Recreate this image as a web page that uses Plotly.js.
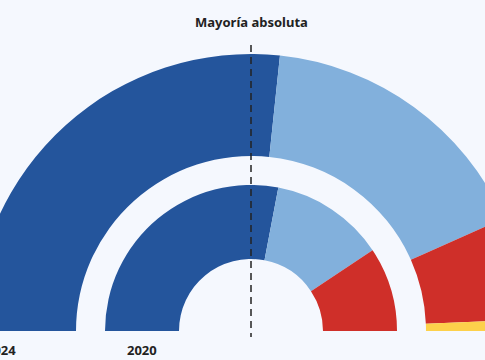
<!DOCTYPE html>
<html>
<head>
<meta charset="utf-8">
<script src="https://cdn.plot.ly/plotly-3.0.1.min.js"></script>
<style>
html,body{margin:0;padding:0;width:485px;height:360px;overflow:hidden;background:#f5f8fe;}
#chart{position:absolute;left:-29px;top:0;width:560px;height:680px;}
</style>
</head>
<body>
<div id="chart"></div>
<script>
var parties = ['PP', 'BNG', 'PSdeG', 'DO'];
var seats2024 = [40, 25, 9, 1];
var seats2020 = [42, 19, 14, 0];
var yearLabels = ['2024', '2020'];
var titleText = 'Mayoría absoluta';

var partyColors = ['#24559c', '#82b0dc', '#cf2f29', '#fdd14b'];
var bg = '#f5f8fe';
var W = 560, H = 680, cx = 280, cy = 331;

function half(vals) {
  var total = vals.reduce(function (a, b) { return a + b; }, 0);
  return vals.concat([total]);
}
function dom(r) {
  return {
    x: [(cx - r) / W, (cx + r) / W],
    y: [(H - cy - r) / H, (H - cy + r) / H]
  };
}
var cols = partyColors.concat(['rgba(0,0,0,0)']);
var labs = parties.concat(['']);

var traces = [
  {
    type: 'pie', values: half(seats2024), labels: labs, sort: false,
    direction: 'clockwise', rotation: -90, hole: 175 / 277,
    domain: dom(277), textinfo: 'none', hoverinfo: 'skip',
    marker: {colors: cols, line: {width: 0}}, showlegend: false
  },
  {
    type: 'pie', values: half(seats2020), labels: labs, sort: false,
    direction: 'clockwise', rotation: -90, hole: 72 / 146,
    domain: dom(146), textinfo: 'none', hoverinfo: 'skip',
    marker: {colors: cols, line: {width: 0}}, showlegend: false
  }
];

var font = {family: 'Noto Sans, sans-serif', size: 13, color: '#222222', weight: 'bold'};
var layout = {
  width: W, height: H,
  margin: {l: 0, r: 0, t: 0, b: 0},
  paper_bgcolor: bg, plot_bgcolor: bg,
  showlegend: false,
  shapes: [{
    type: 'line', xref: 'paper', yref: 'paper',
    x0: 0.5, x1: 0.5, y0: (H - 45) / H, y1: (H - 337) / H,
    line: {color: '#222222', width: 1.5, dash: '7px,5px'}
  }],
  annotations: [
    {text: '<b>' + titleText + '</b>', xref: 'paper', yref: 'paper', x: 0.5, y: (H - 22) / H,
     showarrow: false, font: font, xanchor: 'center', yanchor: 'middle'},
    {text: '<b>' + yearLabels[0] + '</b>', xref: 'paper', yref: 'paper', x: (cx - 250) / W, y: (H - 350) / H,
     showarrow: false, font: font, xanchor: 'center', yanchor: 'middle'},
    {text: '<b>' + yearLabels[1] + '</b>', xref: 'paper', yref: 'paper', x: (cx - 109) / W, y: (H - 350) / H,
     showarrow: false, font: font, xanchor: 'center', yanchor: 'middle'}
  ]
};
Plotly.newPlot('chart', traces, layout, {staticPlot: true, displayModeBar: false});
</script>
</body>
</html>
